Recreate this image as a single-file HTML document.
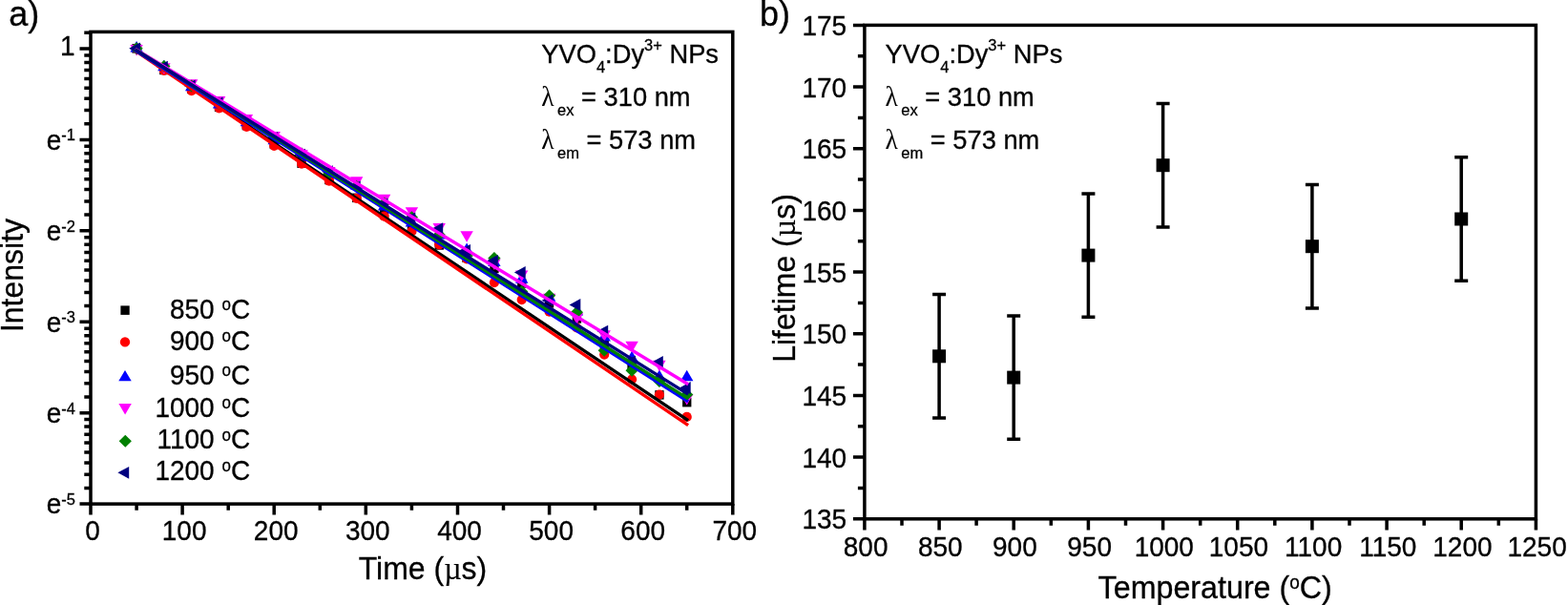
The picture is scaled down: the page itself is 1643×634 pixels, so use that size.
<!DOCTYPE html>
<html lang="en">
<head>
<meta charset="utf-8">
<title>YVO4:Dy3+ NPs luminescence decay and lifetime</title>
<style>
html,body{margin:0;padding:0;background:#fff;}
body{width:1643px;height:634px;overflow:hidden;}
svg{display:block;}
</style>
</head>
<body>
<svg width="1643" height="634" viewBox="0 0 1643 634" font-family="'Liberation Sans', Arial, sans-serif" fill="#000">
<rect width="1643" height="634" fill="#fff"/>
<g id="panelA">
<g id="scatterA">
<rect x="138.4" y="46.1" width="9.3" height="9.5" fill="#000000"/>
<rect x="167.2" y="68.7" width="9.3" height="9.5" fill="#000000"/>
<rect x="196.1" y="88.6" width="9.3" height="9.5" fill="#000000"/>
<rect x="224.9" y="107.6" width="9.3" height="9.5" fill="#000000"/>
<rect x="253.7" y="126.8" width="9.3" height="9.5" fill="#000000"/>
<rect x="282.6" y="146.3" width="9.3" height="9.5" fill="#000000"/>
<rect x="311.4" y="166.5" width="9.3" height="9.5" fill="#000000"/>
<rect x="340.2" y="183.7" width="9.3" height="9.5" fill="#000000"/>
<rect x="369.1" y="202.6" width="9.3" height="9.5" fill="#000000"/>
<rect x="397.9" y="220.0" width="9.3" height="9.5" fill="#000000"/>
<rect x="426.8" y="235.7" width="9.3" height="9.5" fill="#000000"/>
<rect x="455.6" y="252.2" width="9.3" height="9.5" fill="#000000"/>
<rect x="484.4" y="265.5" width="9.3" height="9.5" fill="#000000"/>
<rect x="513.3" y="276.7" width="9.3" height="9.5" fill="#000000"/>
<rect x="542.1" y="292.2" width="9.3" height="9.5" fill="#000000"/>
<rect x="570.9" y="313.1" width="9.3" height="9.5" fill="#000000"/>
<rect x="599.8" y="329.2" width="9.3" height="9.5" fill="#000000"/>
<rect x="628.6" y="355.4" width="9.3" height="9.5" fill="#000000"/>
<rect x="657.4" y="378.3" width="9.3" height="9.5" fill="#000000"/>
<rect x="686.3" y="409.1" width="9.3" height="9.5" fill="#000000"/>
<rect x="715.1" y="416.9" width="9.3" height="9.5" fill="#000000"/>
<circle cx="143.1" cy="50.8" r="5.1" fill="#ff0000"/>
<circle cx="171.9" cy="74.0" r="5.1" fill="#ff0000"/>
<circle cx="200.7" cy="95.1" r="5.1" fill="#ff0000"/>
<circle cx="229.6" cy="113.3" r="5.1" fill="#ff0000"/>
<circle cx="258.4" cy="133.0" r="5.1" fill="#ff0000"/>
<circle cx="287.2" cy="152.8" r="5.1" fill="#ff0000"/>
<circle cx="316.1" cy="171.7" r="5.1" fill="#ff0000"/>
<circle cx="344.9" cy="189.7" r="5.1" fill="#ff0000"/>
<circle cx="373.7" cy="207.9" r="5.1" fill="#ff0000"/>
<circle cx="402.6" cy="226.7" r="5.1" fill="#ff0000"/>
<circle cx="431.4" cy="242.3" r="5.1" fill="#ff0000"/>
<circle cx="460.2" cy="256.3" r="5.1" fill="#ff0000"/>
<circle cx="489.1" cy="271.5" r="5.1" fill="#ff0000"/>
<circle cx="517.9" cy="296.1" r="5.1" fill="#ff0000"/>
<circle cx="546.7" cy="314.1" r="5.1" fill="#ff0000"/>
<circle cx="575.6" cy="326.7" r="5.1" fill="#ff0000"/>
<circle cx="604.4" cy="343.5" r="5.1" fill="#ff0000"/>
<circle cx="633.2" cy="371.6" r="5.1" fill="#ff0000"/>
<circle cx="662.1" cy="397.5" r="5.1" fill="#ff0000"/>
<circle cx="690.9" cy="413.6" r="5.1" fill="#ff0000"/>
<circle cx="719.7" cy="436.9" r="5.1" fill="#ff0000"/>
<polygon points="143.1,43.1 136.4,54.6 149.8,54.6" fill="#0000ff"/>
<polygon points="171.9,62.8 165.2,74.3 178.6,74.3" fill="#0000ff"/>
<polygon points="200.7,83.8 194.0,95.3 207.4,95.3" fill="#0000ff"/>
<polygon points="229.6,101.9 222.9,113.4 236.3,113.4" fill="#0000ff"/>
<polygon points="258.4,120.7 251.7,132.2 265.1,132.2" fill="#0000ff"/>
<polygon points="287.2,139.7 280.5,151.2 293.9,151.2" fill="#0000ff"/>
<polygon points="316.1,157.2 309.4,168.7 322.8,168.7" fill="#0000ff"/>
<polygon points="344.9,172.4 338.2,183.9 351.6,183.9" fill="#0000ff"/>
<polygon points="373.7,187.1 367.0,198.6 380.4,198.6" fill="#0000ff"/>
<polygon points="402.6,209.0 395.9,220.5 409.3,220.5" fill="#0000ff"/>
<polygon points="431.4,226.1 424.7,237.6 438.1,237.6" fill="#0000ff"/>
<polygon points="460.2,239.0 453.5,250.5 466.9,250.5" fill="#0000ff"/>
<polygon points="489.1,254.4 482.4,265.9 495.8,265.9" fill="#0000ff"/>
<polygon points="517.9,267.6 511.2,279.1 524.6,279.1" fill="#0000ff"/>
<polygon points="546.7,285.3 540.0,296.8 553.4,296.8" fill="#0000ff"/>
<polygon points="575.6,304.3 568.9,315.8 582.3,315.8" fill="#0000ff"/>
<polygon points="604.4,318.9 597.7,330.4 611.1,330.4" fill="#0000ff"/>
<polygon points="633.2,346.0 626.5,357.5 639.9,357.5" fill="#0000ff"/>
<polygon points="662.1,367.7 655.4,379.2 668.8,379.2" fill="#0000ff"/>
<polygon points="690.9,387.6 684.2,399.1 697.6,399.1" fill="#0000ff"/>
<polygon points="719.7,387.7 713.0,399.2 726.4,399.2" fill="#0000ff"/>
<polygon points="143.1,58.5 136.4,47.0 149.8,47.0" fill="#ff00ff"/>
<polygon points="171.9,77.7 165.2,66.2 178.6,66.2" fill="#ff00ff"/>
<polygon points="200.7,94.7 194.0,83.2 207.4,83.2" fill="#ff00ff"/>
<polygon points="229.6,112.6 222.9,101.1 236.3,101.1" fill="#ff00ff"/>
<polygon points="258.4,131.4 251.7,119.9 265.1,119.9" fill="#ff00ff"/>
<polygon points="287.2,149.5 280.5,138.0 293.9,138.0" fill="#ff00ff"/>
<polygon points="316.1,168.7 309.4,157.2 322.8,157.2" fill="#ff00ff"/>
<polygon points="344.9,186.5 338.2,175.0 351.6,175.0" fill="#ff00ff"/>
<polygon points="373.7,196.7 367.0,185.2 380.4,185.2" fill="#ff00ff"/>
<polygon points="402.6,215.3 395.9,203.8 409.3,203.8" fill="#ff00ff"/>
<polygon points="431.4,228.8 424.7,217.3 438.1,217.3" fill="#ff00ff"/>
<polygon points="460.2,245.5 453.5,234.0 466.9,234.0" fill="#ff00ff"/>
<polygon points="489.1,253.8 482.4,242.3 495.8,242.3" fill="#ff00ff"/>
<polygon points="517.9,283.0 511.2,271.5 524.6,271.5" fill="#ff00ff"/>
<polygon points="546.7,294.9 540.0,283.4 553.4,283.4" fill="#ff00ff"/>
<polygon points="575.6,319.2 568.9,307.7 582.3,307.7" fill="#ff00ff"/>
<polygon points="604.4,339.7 597.7,328.2 611.1,328.2" fill="#ff00ff"/>
<polygon points="633.2,357.8 626.5,346.3 639.9,346.3" fill="#ff00ff"/>
<polygon points="662.1,369.3 655.4,357.8 668.8,357.8" fill="#ff00ff"/>
<polygon points="690.9,389.2 684.2,377.7 697.6,377.7" fill="#ff00ff"/>
<polygon points="719.7,424.5 713.0,413.0 726.4,413.0" fill="#ff00ff"/>
<polygon points="143.1,44.3 149.7,50.8 143.1,57.3 136.5,50.8" fill="#008000"/>
<polygon points="171.9,63.0 178.5,69.5 171.9,76.0 165.3,69.5" fill="#008000"/>
<polygon points="200.7,83.5 207.3,90.0 200.7,96.5 194.1,90.0" fill="#008000"/>
<polygon points="229.6,102.0 236.2,108.5 229.6,115.0 223.0,108.5" fill="#008000"/>
<polygon points="258.4,120.7 265.0,127.2 258.4,133.7 251.8,127.2" fill="#008000"/>
<polygon points="287.2,139.2 293.8,145.7 287.2,152.2 280.6,145.7" fill="#008000"/>
<polygon points="316.1,154.4 322.7,160.9 316.1,167.4 309.5,160.9" fill="#008000"/>
<polygon points="344.9,175.5 351.5,182.0 344.9,188.5 338.3,182.0" fill="#008000"/>
<polygon points="373.7,189.1 380.3,195.6 373.7,202.1 367.1,195.6" fill="#008000"/>
<polygon points="402.6,206.5 409.2,213.0 402.6,219.5 396.0,213.0" fill="#008000"/>
<polygon points="431.4,221.2 438.0,227.7 431.4,234.2 424.8,227.7" fill="#008000"/>
<polygon points="460.2,239.5 466.8,246.0 460.2,252.5 453.6,246.0" fill="#008000"/>
<polygon points="489.1,261.7 495.7,268.2 489.1,274.7 482.5,268.2" fill="#008000"/>
<polygon points="517.9,264.1 524.5,270.6 517.9,277.1 511.3,270.6" fill="#008000"/>
<polygon points="546.7,299.1 553.3,305.6 546.7,312.1 540.1,305.6" fill="#008000"/>
<polygon points="575.6,303.2 582.2,309.7 575.6,316.2 569.0,309.7" fill="#008000"/>
<polygon points="604.4,320.7 611.0,327.2 604.4,333.7 597.8,327.2" fill="#008000"/>
<polygon points="633.2,360.8 639.8,367.3 633.2,373.8 626.6,367.3" fill="#008000"/>
<polygon points="662.1,381.8 668.7,388.3 662.1,394.8 655.5,388.3" fill="#008000"/>
<polygon points="690.9,393.1 697.5,399.6 690.9,406.1 684.3,399.6" fill="#008000"/>
<polygon points="719.7,407.0 726.3,413.5 719.7,420.0 713.1,413.5" fill="#008000"/>
<polygon points="135.2,50.8 147.0,44.4 147.0,57.3" fill="#000080"/>
<polygon points="164.0,70.3 175.8,63.8 175.8,76.7" fill="#000080"/>
<polygon points="192.9,89.9 204.7,83.5 204.7,96.4" fill="#000080"/>
<polygon points="221.7,108.0 233.5,101.5 233.5,114.4" fill="#000080"/>
<polygon points="250.5,127.7 262.3,121.2 262.3,134.1" fill="#000080"/>
<polygon points="279.4,144.4 291.2,138.0 291.2,150.9" fill="#000080"/>
<polygon points="308.2,162.3 320.0,155.8 320.0,168.7" fill="#000080"/>
<polygon points="337.0,179.8 348.8,173.3 348.8,186.2" fill="#000080"/>
<polygon points="365.9,195.9 377.7,189.5 377.7,202.4" fill="#000080"/>
<polygon points="394.7,214.3 406.5,207.8 406.5,220.7" fill="#000080"/>
<polygon points="423.5,228.8 435.3,222.4 435.3,235.3" fill="#000080"/>
<polygon points="452.4,239.7 464.2,233.3 464.2,246.2" fill="#000080"/>
<polygon points="481.2,262.5 493.0,256.0 493.0,268.9" fill="#000080"/>
<polygon points="510.0,273.4 521.8,267.0 521.8,279.9" fill="#000080"/>
<polygon points="538.9,285.5 550.7,279.1 550.7,292.0" fill="#000080"/>
<polygon points="567.7,314.8 579.5,308.3 579.5,321.2" fill="#000080"/>
<polygon points="596.5,319.5 608.3,313.1 608.3,326.0" fill="#000080"/>
<polygon points="625.4,347.1 637.2,340.7 637.2,353.6" fill="#000080"/>
<polygon points="654.2,379.0 666.0,372.5 666.0,385.4" fill="#000080"/>
<polygon points="683.0,379.5 694.8,373.1 694.8,386.0" fill="#000080"/>
<polygon points="711.9,406.5 723.7,400.1 723.7,412.9" fill="#000080"/>
</g>
<g id="fitA" stroke-width="3.4" stroke-linecap="square" fill="none">
<line x1="143.1" y1="53.4" x2="719.7" y2="439.6" stroke="#000000"/>
<line x1="143.1" y1="54.0" x2="719.7" y2="444.7" stroke="#ff0000"/>
<line x1="143.1" y1="53.8" x2="719.7" y2="419.8" stroke="#0000ff"/>
<line x1="143.1" y1="52.1" x2="719.7" y2="401.8" stroke="#ff00ff"/>
<line x1="143.1" y1="52.6" x2="719.7" y2="417.0" stroke="#008000"/>
<line x1="143.1" y1="52.9" x2="719.7" y2="412.2" stroke="#000080"/>
</g>
<g stroke="#000" stroke-width="3.5" fill="none">
<rect x="95.0" y="33.4" width="672.8" height="494.7"/>
<path d="M83.5 51.0H95.0 M83.5 146.4H95.0 M83.5 241.8H95.0 M83.5 337.2H95.0 M83.5 432.7H95.0 M83.5 528.1H95.0 M88.3 34.3H95.0 M88.3 57.9H95.0 M88.3 65.4H95.0 M88.3 73.5H95.0 M88.3 82.4H95.0 M88.3 92.2H95.0 M88.3 103.2H95.0 M88.3 115.5H95.0 M88.3 129.7H95.0 M88.3 153.3H95.0 M88.3 160.8H95.0 M88.3 169.0H95.0 M88.3 177.9H95.0 M88.3 187.7H95.0 M88.3 198.6H95.0 M88.3 210.9H95.0 M88.3 225.1H95.0 M88.3 248.8H95.0 M88.3 256.3H95.0 M88.3 264.4H95.0 M88.3 273.3H95.0 M88.3 283.1H95.0 M88.3 294.0H95.0 M88.3 306.4H95.0 M88.3 320.6H95.0 M88.3 344.2H95.0 M88.3 351.7H95.0 M88.3 359.8H95.0 M88.3 368.7H95.0 M88.3 378.5H95.0 M88.3 389.5H95.0 M88.3 401.8H95.0 M88.3 416.0H95.0 M88.3 439.6H95.0 M88.3 447.1H95.0 M88.3 455.3H95.0 M88.3 464.1H95.0 M88.3 474.0H95.0 M88.3 484.9H95.0 M88.3 497.2H95.0 M88.3 511.4H95.0 M95.0 528.1V539.6 M143.1 528.1V534.8 M191.1 528.1V539.6 M239.2 528.1V534.8 M287.2 528.1V539.6 M335.3 528.1V534.8 M383.3 528.1V539.6 M431.4 528.1V534.8 M479.5 528.1V539.6 M527.5 528.1V534.8 M575.6 528.1V539.6 M623.6 528.1V534.8 M671.7 528.1V539.6 M719.7 528.1V534.8 M767.8 528.1V539.6"/>
</g>
<g stroke="#000" stroke-width="0.3">
<text transform="translate(78.6 57.5) scale(1 1.035)" font-size="28" text-anchor="end">1</text>
<text transform="translate(78.9 156.7) scale(1 1.035)" font-size="28" text-anchor="end">e<tspan font-size="16.5" dy="-8.89">-1</tspan></text>
<text transform="translate(78.9 252.1) scale(1 1.035)" font-size="28" text-anchor="end">e<tspan font-size="16.5" dy="-8.89">-2</tspan></text>
<text transform="translate(78.9 347.5) scale(1 1.035)" font-size="28" text-anchor="end">e<tspan font-size="16.5" dy="-8.89">-3</tspan></text>
<text transform="translate(78.9 443.0) scale(1 1.035)" font-size="28" text-anchor="end">e<tspan font-size="16.5" dy="-8.89">-4</tspan></text>
<text transform="translate(78.9 538.4) scale(1 1.035)" font-size="28" text-anchor="end">e<tspan font-size="16.5" dy="-8.89">-5</tspan></text>
<text transform="translate(97.0 565.6) scale(1 1.035)" font-size="28" text-anchor="middle">0</text>
<text transform="translate(193.1 565.6) scale(1 1.035)" font-size="28" text-anchor="middle">100</text>
<text transform="translate(289.2 565.6) scale(1 1.035)" font-size="28" text-anchor="middle">200</text>
<text transform="translate(385.3 565.6) scale(1 1.035)" font-size="28" text-anchor="middle">300</text>
<text transform="translate(481.5 565.6) scale(1 1.035)" font-size="28" text-anchor="middle">400</text>
<text transform="translate(577.6 565.6) scale(1 1.035)" font-size="28" text-anchor="middle">500</text>
<text transform="translate(673.7 565.6) scale(1 1.035)" font-size="28" text-anchor="middle">600</text>
<text transform="translate(769.8 565.6) scale(1 1.035)" font-size="28" text-anchor="middle">700</text>
<text transform="translate(443.0 606.5) scale(1 1.035)" font-size="32" text-anchor="middle">Time (<tspan font-family="'Liberation Serif', 'DejaVu Serif', serif" stroke-width="0.1">µ</tspan>s)</text>
<text transform="translate(23.6 288.5) rotate(-90) scale(1 1.035)" font-size="32" text-anchor="middle">Intensity</text>
<text transform="translate(9.2 26.5) scale(1 1.0)" font-size="36" text-anchor="start">a)</text>
</g>
<g id="legendA">
<rect x="126.4" y="320.4" width="9.3" height="9.5" fill="#000"/>
<circle cx="131" cy="358.4" r="5.15" fill="#f00"/>
<polygon points="131,387.9 124.3,399.3 137.7,399.3" fill="#00f"/>
<polygon points="131.1,434.4 124.4,423.1 137.8,423.1" fill="#f0f"/>
<polygon points="131.3,455.7 137.9,462.2 131.3,468.7 124.7,462.2" fill="#008000"/>
<polygon points="123.4,495.3 135.2,488.9 135.2,501.8" fill="#000080"/>
<g stroke="#000" stroke-width="0.3">
<text transform="translate(262.1 333.9) scale(1 1.035)" font-size="28" text-anchor="end">850 <tspan font-size="17" dy="-8.60">o</tspan><tspan dy="8.60">C</tspan></text>
<text transform="translate(262.1 367.2) scale(1 1.035)" font-size="28" text-anchor="end">900 <tspan font-size="17" dy="-8.60">o</tspan><tspan dy="8.60">C</tspan></text>
<text transform="translate(262.1 403.2) scale(1 1.035)" font-size="28" text-anchor="end">950 <tspan font-size="17" dy="-8.60">o</tspan><tspan dy="8.60">C</tspan></text>
<text transform="translate(262.1 436.8) scale(1 1.035)" font-size="28" text-anchor="end">1000 <tspan font-size="17" dy="-8.60">o</tspan><tspan dy="8.60">C</tspan></text>
<text transform="translate(262.1 470.4) scale(1 1.035)" font-size="28" text-anchor="end">1100 <tspan font-size="17" dy="-8.60">o</tspan><tspan dy="8.60">C</tspan></text>
<text transform="translate(262.1 503.2) scale(1 1.035)" font-size="28" text-anchor="end">1200 <tspan font-size="17" dy="-8.60">o</tspan><tspan dy="8.60">C</tspan></text>
</g></g>
<g stroke="#000" stroke-width="0.3">
<text transform="translate(567.3 66.2) scale(1 1.035)" font-size="27.3" text-anchor="start">YVO<tspan font-size="16.5" dy="9.37">4</tspan><tspan dy="-9.37">:Dy</tspan><tspan font-size="16.5" dy="-12.95">3+</tspan><tspan dy="12.95"> NPs</tspan></text>
<text transform="translate(567.3 111.2) scale(1 1.035)" font-size="27.3" text-anchor="start"><tspan font-family="'Liberation Serif', 'DejaVu Serif', serif" font-size="27.5" stroke="none">λ</tspan><tspan font-size="16.5" dx="3.4" dy="9.37">ex</tspan><tspan dy="-9.37"> = 310 nm</tspan></text>
<text transform="translate(567.3 156.2) scale(1 1.035)" font-size="27.3" text-anchor="start"><tspan font-family="'Liberation Serif', 'DejaVu Serif', serif" font-size="27.5" stroke="none">λ</tspan><tspan font-size="16.5" dx="3.4" dy="9.37">em</tspan><tspan dy="-9.37"> = 573 nm</tspan></text>
</g>
</g>
<g id="panelB">
<g stroke="#000" stroke-width="3.5" fill="none">
<rect x="905.9" y="26.4" width="703.5" height="517.4"/>
<path d="M893.9 543.8H905.9 M898.9 511.5H905.9 M893.9 479.1H905.9 M898.9 446.8H905.9 M893.9 414.4H905.9 M898.9 382.1H905.9 M893.9 349.8H905.9 M898.9 317.4H905.9 M893.9 285.1H905.9 M898.9 252.8H905.9 M893.9 220.4H905.9 M898.9 188.1H905.9 M893.9 155.8H905.9 M898.9 123.4H905.9 M893.9 91.1H905.9 M898.9 58.7H905.9 M893.9 26.4H905.9 M905.9 543.8V555.5 M945.0 543.8V550.8 M984.1 543.8V555.5 M1023.1 543.8V550.8 M1062.2 543.8V555.5 M1101.3 543.8V550.8 M1140.4 543.8V555.5 M1179.5 543.8V550.8 M1218.6 543.8V555.5 M1257.7 543.8V550.8 M1296.7 543.8V555.5 M1335.8 543.8V550.8 M1374.9 543.8V555.5 M1414.0 543.8V550.8 M1453.1 543.8V555.5 M1492.2 543.8V550.8 M1531.2 543.8V555.5 M1570.3 543.8V550.8 M1609.4 543.8V555.5 M984.1 308.6V438.0 M977.1 308.6H991.1 M977.1 438.0H991.1 M1062.2 330.9V460.2 M1055.2 330.9H1069.2 M1055.2 460.2H1069.2 M1140.4 203.0V332.3 M1133.4 203.0H1147.4 M1133.4 332.3H1147.4 M1218.6 108.5V237.9 M1211.6 108.5H1225.6 M1211.6 237.9H1225.6 M1374.9 193.5V322.9 M1367.9 193.5H1381.9 M1367.9 322.9H1381.9 M1531.2 164.8V294.2 M1524.2 164.8H1538.2 M1524.2 294.2H1538.2"/>
</g>
<rect x="977.1" y="366.3" width="14" height="14"/>
<rect x="1055.2" y="388.6" width="14" height="14"/>
<rect x="1133.4" y="260.6" width="14" height="14"/>
<rect x="1211.6" y="166.2" width="14" height="14"/>
<rect x="1367.9" y="251.2" width="14" height="14"/>
<rect x="1524.2" y="222.5" width="14" height="14"/>
<g stroke="#000" stroke-width="0.3">
<text transform="translate(887.1 554.3) scale(1 1.035)" font-size="28" text-anchor="end">135</text>
<text transform="translate(887.1 489.6) scale(1 1.035)" font-size="28" text-anchor="end">140</text>
<text transform="translate(887.1 424.9) scale(1 1.035)" font-size="28" text-anchor="end">145</text>
<text transform="translate(887.1 360.3) scale(1 1.035)" font-size="28" text-anchor="end">150</text>
<text transform="translate(887.1 295.6) scale(1 1.035)" font-size="28" text-anchor="end">155</text>
<text transform="translate(887.1 230.9) scale(1 1.035)" font-size="28" text-anchor="end">160</text>
<text transform="translate(887.1 166.2) scale(1 1.035)" font-size="28" text-anchor="end">165</text>
<text transform="translate(887.1 101.6) scale(1 1.035)" font-size="28" text-anchor="end">170</text>
<text transform="translate(887.1 36.9) scale(1 1.035)" font-size="28" text-anchor="end">175</text>
<text transform="translate(907.1 582.7) scale(1 1.035)" font-size="28" text-anchor="middle">800</text>
<text transform="translate(985.3 582.7) scale(1 1.035)" font-size="28" text-anchor="middle">850</text>
<text transform="translate(1063.4 582.7) scale(1 1.035)" font-size="28" text-anchor="middle">900</text>
<text transform="translate(1141.6 582.7) scale(1 1.035)" font-size="28" text-anchor="middle">950</text>
<text transform="translate(1219.8 582.7) scale(1 1.035)" font-size="28" text-anchor="middle">1000</text>
<text transform="translate(1297.9 582.7) scale(1 1.035)" font-size="28" text-anchor="middle">1050</text>
<text transform="translate(1376.1 582.7) scale(1 1.035)" font-size="28" text-anchor="middle">1100</text>
<text transform="translate(1454.3 582.7) scale(1 1.035)" font-size="28" text-anchor="middle">1150</text>
<text transform="translate(1532.4 582.7) scale(1 1.035)" font-size="28" text-anchor="middle">1200</text>
<text transform="translate(1610.6 582.7) scale(1 1.035)" font-size="28" text-anchor="middle">1250</text>
<text transform="translate(1273.2 626.9) scale(1 1.035)" font-size="32.25" text-anchor="middle">Temperature (<tspan font-size="19" dy="-9.86">o</tspan><tspan dy="9.86">C)</tspan></text>
<text transform="translate(832.5 291.5) rotate(-90) scale(1 1.035)" font-size="32" text-anchor="middle">Lifetime (<tspan font-family="'Liberation Serif', 'DejaVu Serif', serif" stroke-width="0.1">µ</tspan>s)</text>
<text transform="translate(795.9 26.5) scale(1 1.0)" font-size="36" text-anchor="start">b)</text>
</g>
<g stroke="#000" stroke-width="0.3">
<text transform="translate(927.6 66.4) scale(1 1.035)" font-size="27.3" text-anchor="start">YVO<tspan font-size="16.5" dy="9.37">4</tspan><tspan dy="-9.37">:Dy</tspan><tspan font-size="16.5" dy="-12.95">3+</tspan><tspan dy="12.95"> NPs</tspan></text>
<text transform="translate(927.6 111.4) scale(1 1.035)" font-size="27.3" text-anchor="start"><tspan font-family="'Liberation Serif', 'DejaVu Serif', serif" font-size="27.5" stroke="none">λ</tspan><tspan font-size="16.5" dx="3.4" dy="9.37">ex</tspan><tspan dy="-9.37"> = 310 nm</tspan></text>
<text transform="translate(927.6 156.4) scale(1 1.035)" font-size="27.3" text-anchor="start"><tspan font-family="'Liberation Serif', 'DejaVu Serif', serif" font-size="27.5" stroke="none">λ</tspan><tspan font-size="16.5" dx="3.4" dy="9.37">em</tspan><tspan dy="-9.37"> = 573 nm</tspan></text>
</g>
</g>
</svg>
</body>
</html>
